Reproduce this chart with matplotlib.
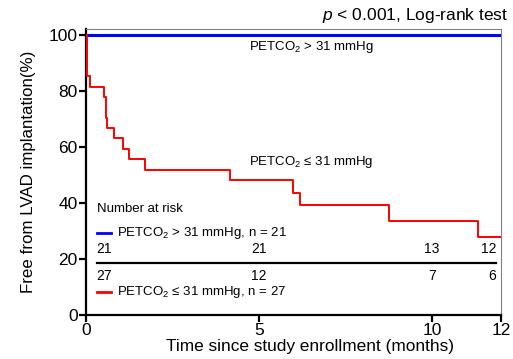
import matplotlib
matplotlib.use("Agg")
import matplotlib.pyplot as plt

plt.rcParams['font.family'] = 'Liberation Sans'
plt.rcParams['mathtext.fontset'] = 'custom'
plt.rcParams['mathtext.rm'] = 'Liberation Sans'
plt.rcParams['mathtext.it'] = 'Liberation Sans:italic'

# Kaplan-Meier steps (months, % free from LVAD)
high_t = [0, 12]
high_s = [100, 100]
low_t = [0, 0.03, 0.1, 0.51, 0.56, 0.6, 0.8, 1.07, 1.25, 1.71, 4.17, 5.98, 6.19, 8.75, 11.34, 12.0]
low_s = [100, 85.2, 81.5, 77.8, 70.4, 66.7, 63.0, 59.3, 55.6, 51.9, 48.1, 43.6, 39.2, 33.5, 27.9, 27.9]

risk_times = [0, 5, 10, 12]
risk_high = [21, 21, 13, 12]
risk_low = [27, 12, 7, 6]

lbl_high = r"PETCO$_2$ > 31 mmHg"
lbl_low = r"PETCO$_2$ ≤ 31 mmHg"

fig = plt.figure(figsize=(5.13, 3.59), dpi=100)
ax = fig.add_axes([0.168, 0.1226, 0.809, 0.7964])

ax.step(high_t, high_s, where="post", color="#0000ff", lw=2.2, zorder=3)
ax.step(low_t, low_s, where="post", color="#ff0000", lw=1.4, zorder=3)

ax.set_xlim(0, 12)
ax.set_ylim(0, 102)
ax.set_xticks([0, 5, 10, 12])
ax.set_yticks([0, 20, 40, 60, 80, 100])
ax.tick_params(direction="out", length=5, width=1.6, labelsize=12.5, pad=1)

for s in ("left", "bottom"):
    ax.spines[s].set_linewidth(1.6)
for s in ("top", "right"):
    ax.spines[s].set_color("#808080")
    ax.spines[s].set_linewidth(0.8)

ax.set_xlabel("Time since study enrollment (months)", fontsize=12.4)
ax.set_ylabel("Free from LVAD implantation(%)", fontsize=12.2)
ax.xaxis.set_label_coords(0.54, -0.085)
ax.yaxis.set_label_coords(-0.12, 0.5)

fig.text(0.99, 0.945, r"$p$ < 0.001, Log-rank test", ha="right", va="baseline", fontsize=12.5)

# curve annotations
ax.text(4.7, 95.7, lbl_high, fontsize=9.5, va="center")
ax.text(4.7, 54.6, lbl_low, fontsize=9.5, va="center")

# number-at-risk table
ax.text(0.3, 37.9, "Number at risk", fontsize=9.5, va="center")
ax.plot([0.3, 0.72], [29.3, 29.3], color="#0000ff", lw=2)
ax.text(0.89, 29.3, lbl_high + ", n = %d" % risk_high[0], fontsize=9.5, va="center")
ax.plot([0.3, 11.85], [18.6, 18.6], color="black", lw=1.6)
ax.plot([0.3, 0.72], [8.2, 8.2], color="#ff0000", lw=2)
ax.text(0.89, 8.2, lbl_low + ", n = %d" % risk_low[0], fontsize=9.5, va="center")

for t, h, l in zip(risk_times, risk_high, risk_low):
    if t == 0:
        x, ha = 0.3, "left"
    elif t == 12:
        x, ha = 11.85, "right"
    else:
        x, ha = t, "center"
    ax.text(x, 23.6, str(h), fontsize=10, ha=ha, va="center")
    ax.text(x, 13.9, str(l), fontsize=10, ha=ha, va="center")

fig.savefig("out.png", dpi=100)
